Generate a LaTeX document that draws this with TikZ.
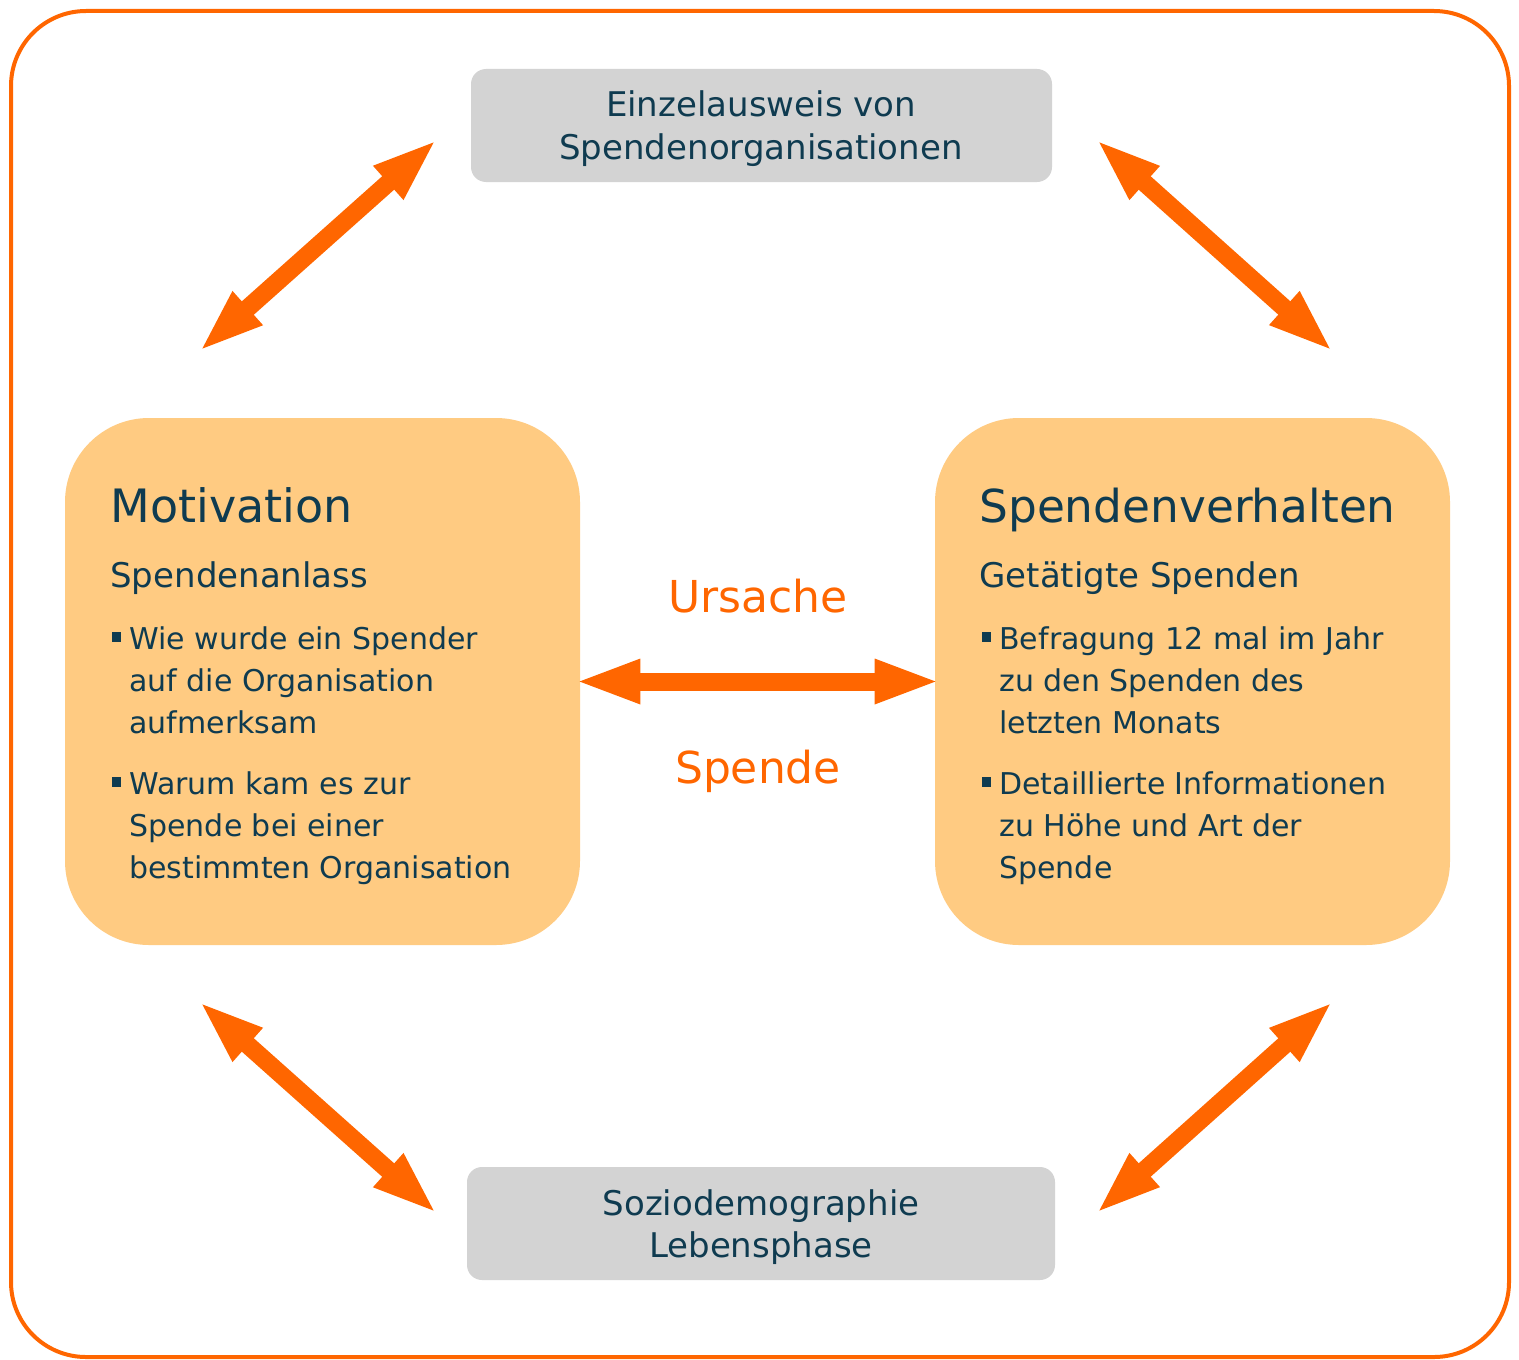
\documentclass[tikz,border=0pt]{standalone}
\usepackage{fontspec}
\setmainfont{DejaVu Sans}
\usetikzlibrary{arrows.meta}
\definecolor{navy}{HTML}{0F3B50}
\definecolor{orng}{HTML}{FF6600}
\definecolor{peach}{HTML}{FFCB82}
\definecolor{lgray}{HTML}{D3D3D3}

\begin{document}
\begin{tikzpicture}[x=0.5pt,y=-0.5pt,
  graybox/.style={fill=lgray, rounded corners=7.5pt, minimum height=56.5pt},
  peachbox/.style={fill=peach, rounded corners=42pt, minimum width=257.5pt,
    minimum height=263.5pt},
  txt/.style={text=navy, inner sep=0pt, anchor=base west, align=left,
    font=\fontsize{15}{20.8}\selectfont},
  gtxt/.style={text=navy, inner sep=0pt, anchor=base, align=center,
    font=\fontsize{17}{21}\selectfont},
  sq/.style={fill=navy, inner sep=0pt, minimum width=4.5pt, minimum height=5pt},
  dbl/.style={draw=orng, line width=9pt, shorten <=-3pt, shorten >=-3pt,
    arrows={Triangle[length=33pt,width=20pt]-Triangle[length=33pt,width=20pt]}}]
\useasboundingbox (0,0) rectangle (1519,1359);
\draw[orng, line width=2pt, rounded corners=37.5pt] (11,11) rectangle (1509,1357);

% boxes
\node[graybox, minimum width=290.5pt] (ein) at (761.5,125.5) {};
\node[gtxt] (einT) at (761,159) {Einzelausweis von\\Spendenorganisationen};
\node[graybox, minimum width=294pt] (soz) at (761,1223.5) {};
\node[gtxt] (sozT) at (761,1257) {Soziodemographie\\Lebensphase};
\node[peachbox] (mot) at (322.5,681.5) {};
\node[peachbox] (verh) at (1192.5,681.5) {};

% left box
\node[txt, font=\fontsize{23}{28}\selectfont] (motT) at (110,522) {Motivation};
\node[txt, font=\fontsize{17}{21}\selectfont] (motS) at (110,587) {Spendenanlass};
\node[sq] (mb1) at (116.5,637) {};
\node[txt] (m1) at (129,733) {Wie wurde ein Spender\\auf die Organisation\\aufmerksam};
\node[sq] (mb2) at (116.5,782) {};
\node[txt] (m2) at (129,878) {Warum kam es zur\\Spende bei einer\\bestimmten Organisation};

% right box
\node[txt, font=\fontsize{22.7}{28}\selectfont] (verhT) at (979,522) {Spendenverhalten};
\node[txt, font=\fontsize{17}{21}\selectfont] (verhS) at (979,587) {Getätigte Spenden};
\node[sq] (vb1) at (986,637) {};
\node[txt] (v1) at (999,733) {Befragung 12 mal im Jahr\\zu den Spenden des\\letzten Monats};
\node[sq] (vb2) at (986,782) {};
\node[txt] (v2) at (999,878) {Detaillierte Informationen\\zu Höhe und Art der\\Spende};

% middle
\node[text=orng, inner sep=0pt, anchor=base, font=\fontsize{22}{26}\selectfont] (urs) at (758,612) {Ursache};
\node[text=orng, inner sep=0pt, anchor=base, font=\fontsize{22}{26}\selectfont] (sp) at (758,783) {Spende};
\draw[dbl] (mot.east) -- (verh.west);

% diagonal arrows
\coordinate (tl1) at (203,348);
\coordinate (tl2) at (433,143);
\coordinate (tr1) at (1100,143);
\coordinate (tr2) at (1329,348);
\coordinate (bl1) at (203,1005);
\coordinate (bl2) at (433,1210);
\coordinate (br1) at (1100,1210);
\coordinate (br2) at (1329,1005);
\draw[dbl] (tl1) -- (tl2);
\draw[dbl] (tr1) -- (tr2);
\draw[dbl] (bl1) -- (bl2);
\draw[dbl] (br1) -- (br2);
\end{tikzpicture}
\end{document}
